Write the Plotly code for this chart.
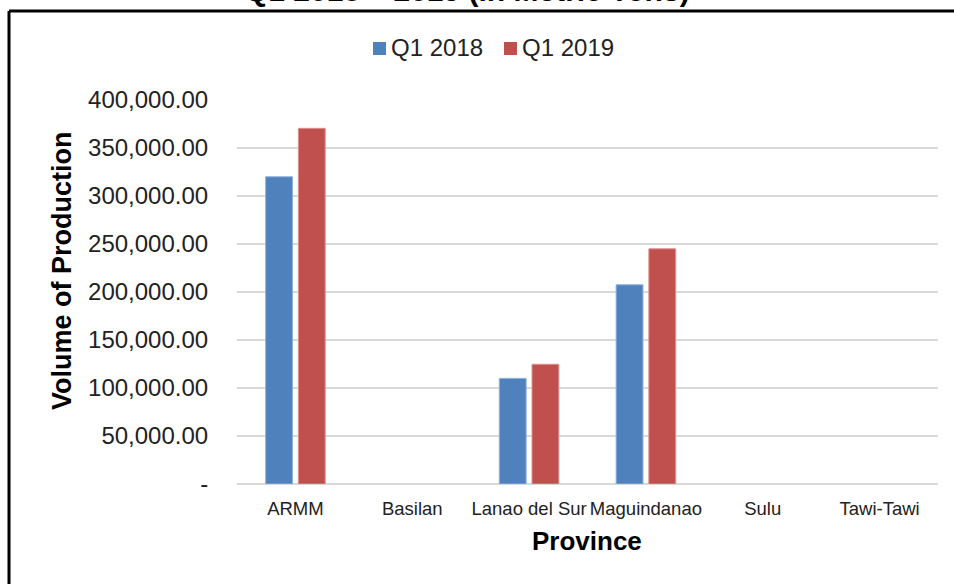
import plotly.graph_objects as go

provinces = ["ARMM", "Basilan", "Lanao del Sur", "Maguindanao", "Sulu", "Tawi-Tawi"]
q1_2018 = [320000, 0, 110000, 207500, 0, 0]
q1_2019 = [370500, 0, 124700, 245000, 0, 0]
series_names = ["Q1 2018", "Q1 2019"]
series_colors = ["#4f81bd", "#c0504d"]
series_edges = ["#8eaedb", "#e08e8c"]
y_tickvals = [0, 50000, 100000, 150000, 200000, 250000, 300000, 350000, 400000]
y_ticktext = ["-", "50,000.00", "100,000.00", "150,000.00", "200,000.00",
              "250,000.00", "300,000.00", "350,000.00", "400,000.00"]
title_text = "Q1 2018 – 2019 (in Metric Tons)"

FONT = "Arial, Liberation Sans, sans-serif"
W, H = 954, 584
L, R, T, B = 237, 16, 100, 100
pw, ph = W - L - R, H - T - B


def px_x(x):
    return (x - L) / pw


def px_y(y):
    return (H - B - y) / ph


fig = go.Figure()
for name, vals, col, edge in zip(series_names, [q1_2018, q1_2019], series_colors, series_edges):
    fig.add_trace(go.Bar(x=provinces, y=vals, name=name,
                         marker=dict(color=col,
                                     line=dict(color=edge, width=[1 if v > 0 else 0 for v in vals]))))

# manual legend (square + label)
legend_items = [(373, 389), (504, 520)]
shapes = []
annotations = []
for (sx, tx), name, col in zip(legend_items, series_names, series_colors):
    shapes.append(dict(type="rect", xref="paper", yref="paper",
                       x0=px_x(sx), x1=px_x(sx + 13), y0=px_y(55), y1=px_y(42),
                       fillcolor=col, line=dict(width=0)))
    annotations.append(dict(text=name, xref="paper", yref="paper", x=px_x(tx), y=px_y(47.5),
                            xanchor="left", yanchor="middle", showarrow=False,
                            font=dict(size=24, family=FONT, color="#222222")))

annotations += [
    dict(text="<b>" + title_text + "</b>", xref="paper", yref="paper",
         x=px_x(467), y=px_y(-9), xanchor="center", yanchor="middle", showarrow=False,
         font=dict(size=30, family=FONT, color="black")),
    dict(text="<b>Volume of Production</b>", xref="paper", yref="paper",
         x=px_x(62), y=px_y(271), xanchor="center", yanchor="middle", showarrow=False,
         textangle=-90, font=dict(size=27, family=FONT, color="black")),
    dict(text="<b>Province</b>", xref="paper", yref="paper",
         x=px_x(587), y=px_y(541), xanchor="center", yanchor="middle", showarrow=False,
         font=dict(size=26, family=FONT, color="black")),
]
shapes += [
    dict(type="line", xref="paper", yref="paper", x0=px_x(9), x1=px_x(960),
         y0=px_y(11), y1=px_y(11), line=dict(color="black", width=3)),
    dict(type="line", xref="paper", yref="paper", x0=px_x(9), x1=px_x(9),
         y0=px_y(11), y1=px_y(600), line=dict(color="black", width=3)),
]

fig.update_layout(
    width=W, height=H,
    margin=dict(l=L, r=R, t=T, b=B, pad=0),
    paper_bgcolor="white", plot_bgcolor="white",
    font=dict(family=FONT, color="#222222"),
    barmode="group", bargap=0.44, bargroupgap=0.18,
    showlegend=False,
    xaxis=dict(showgrid=False, showline=False, ticks="outside", ticklen=8, tickcolor="rgba(0,0,0,0)",
               tickfont=dict(size=18.5, family=FONT, color="#222222"), fixedrange=True),
    yaxis=dict(range=[0, 400000], tickvals=y_tickvals, ticktext=y_ticktext,
               showgrid=True, gridcolor="#d9d9d9", gridwidth=2,
               zeroline=True, zerolinecolor="#d9d9d9", zerolinewidth=2,
               showline=False, ticks="outside", ticklen=23, tickcolor="rgba(0,0,0,0)",
               tickfont=dict(size=24, family=FONT, color="#222222"), fixedrange=True),
    annotations=annotations,
    shapes=shapes,
)

fig.write_html("out.html", config={"displayModeBar": False},
               post_script="document.body.style.margin='0';")
